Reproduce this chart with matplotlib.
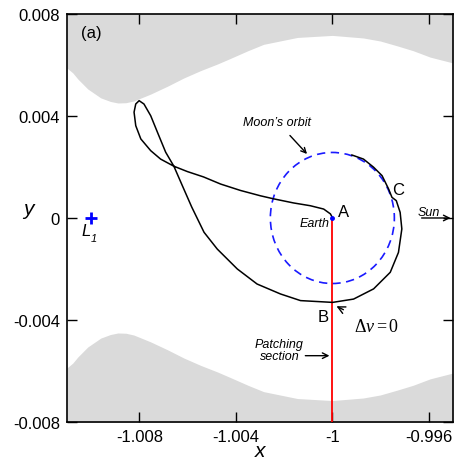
import numpy as np
import matplotlib
matplotlib.use("Agg")
import matplotlib.pyplot as plt
from matplotlib.patches import Circle

plt.rcParams['font.family'] = ['Liberation Sans', 'DejaVu Sans']
plt.rcParams['mathtext.fontset'] = 'custom'
plt.rcParams['mathtext.rm'] = 'Liberation Serif'
plt.rcParams['mathtext.it'] = 'Liberation Serif:italic'

# transfer trajectory (from A, through the loop, B, C)
traj_x = [-0.99999, -1.00008, -1.00036, -1.00091, -1.00161, -1.00243, -1.00298,
          -1.00381, -1.00463, -1.00534, -1.00601, -1.00657, -1.00712, -1.00753,
          -1.00794, -1.00815, -1.00822, -1.00815, -1.00801, -1.00781, -1.00753,
          -1.00725, -1.00691, -1.00657, -1.00622, -1.00583, -1.00532, -1.00477,
          -1.00394, -1.00312, -1.00215, -1.00132, -0.99999, -0.99912, -0.99829,
          -0.99760, -0.99726, -0.99712, -0.99719, -0.99735, -0.99753, -0.99767,
          -0.99794, -0.99829, -0.99871, -0.99919]
traj_y = [0.00000, 0.00016, 0.00035, 0.00048, 0.00059, 0.00075, 0.00087,
          0.00108, 0.00133, 0.00161, 0.00182, 0.00203, 0.00231, 0.00264,
          0.00310, 0.00362, 0.00415, 0.00447, 0.00460, 0.00447, 0.00401,
          0.00336, 0.00258, 0.00203, 0.00127, 0.00043, -0.00056, -0.00122,
          -0.00200, -0.00259, -0.00298, -0.00324, -0.00331, -0.00318, -0.00278,
          -0.00213, -0.00135, -0.00043, 0.00022, 0.00068, 0.00081, 0.00114,
          0.00166, 0.00199, 0.00231, 0.00247]

# forbidden region boundary (symmetric about y = 0)
zvc_x = [-1.0110, -1.01076, -1.01055, -1.01014, -1.00960, -1.00920, -1.00889,
         -1.00856, -1.00823, -1.00753, -1.00683, -1.00616, -1.00546, -1.00476,
         -1.00422, -1.00350, -1.00285, -1.00145, -1.00000, -0.99872, -0.99801,
         -0.99731, -0.99665, -0.99595, -0.99500]
zvc_y = [0.00588, 0.00569, 0.00545, 0.00506, 0.00471, 0.00457, 0.00451,
         0.00452, 0.00459, 0.00486, 0.00517, 0.00549, 0.00578, 0.00604,
         0.00626, 0.00656, 0.00681, 0.00708, 0.00716, 0.00706, 0.00694,
         0.00675, 0.00656, 0.00631, 0.00608]

earth = (-1.0, 0.0)
l1 = (-1.01001, 0.0)
moon_r = 0.00257

xticks = [-1.008, -1.004, -1.0, -0.996]
xlabels = ['-1.008', '-1.004', '-1', '-0.996']
yticks = [0.008, 0.004, 0.0, -0.004, -0.008]
ylabels = ['0.008', '0.004', '0', '-0.004', '-0.008']

fig = plt.figure(figsize=(4.57, 4.64), dpi=100)
ax = fig.add_axes([0.1466, 0.0884, 0.8446, 0.8793])

zx = np.array(zvc_x)
zy = np.array(zvc_y)
ax.fill_between(zx, zy, 0.009, color='#dadada', lw=0, zorder=1)
ax.fill_between(zx, -zy, -0.009, color='#dadada', lw=0, zorder=1)

ax.plot([earth[0], earth[0]], [earth[1], -0.008], color='red', lw=1.3, zorder=3)
ax.plot(traj_x, traj_y, color='black', lw=1.1, zorder=4)
ax.add_patch(Circle(earth, moon_r, fill=False, edgecolor='#1a1aff', lw=1.2,
                    ls=(0, (5, 3.3)), zorder=2))
ax.plot(*earth, 'o', color='blue', ms=2.5, zorder=5)
ax.plot(*l1, '+', color='blue', ms=8, mew=2, zorder=5)

ax.set_xlim(-1.011, -0.995)
ax.set_ylim(-0.008, 0.008)
ax.set_xticks(xticks)
ax.set_xticklabels(xlabels)
ax.set_yticks(yticks)
ax.set_yticklabels(ylabels)
ax.tick_params(direction='in', length=7, width=1, top=True, right=True,
               labelsize=12, pad=5)
for s in ax.spines.values():
    s.set_linewidth(1.2)

ax.set_xlabel('x', fontsize=15, style='italic', labelpad=-2)
ax.set_ylabel('y', fontsize=15, style='italic', rotation=0, labelpad=8)
ax.yaxis.set_label_coords(-0.1, 0.5)

ax.text(-1.0104, 0.0071, '(a)', fontsize=12)
ax.text(-1.01022, -0.0005, 'L', fontsize=12, style='italic', ha='center', va='center')
ax.text(-1.00988, -0.00078, '1', fontsize=8, style='italic', ha='center', va='center')

ax.text(-0.99953, 0.00024, 'A', fontsize=12, ha='center', va='center')
ax.text(-1.00072, -0.0002, 'Earth', fontsize=9, style='italic', ha='center', va='center')
ax.text(-0.99727, 0.00111, 'C', fontsize=12, ha='center', va='center')
ax.text(-1.00036, -0.00386, 'B', fontsize=12, ha='center', va='center')

ax.annotate('Moon\u2019s orbit', xy=(-1.00105, 0.00251), xytext=(-1.00229, 0.00378),
            fontsize=9, style='italic', ha='center', va='center',
            arrowprops=dict(arrowstyle='->', lw=1, shrinkA=5, shrinkB=0))
ax.annotate('', xy=(-0.99510, 0.0), xytext=(-0.9963, 0.0),
            arrowprops=dict(arrowstyle='->', lw=1, shrinkA=0, shrinkB=0))
ax.text(-0.99601, 0.00025, 'Sun', fontsize=9, style='italic', ha='center', va='center')

ax.annotate(r'$\Delta v = 0$', xy=(-0.99983, -0.00346), xytext=(-0.99815, -0.00426),
            fontsize=13, ha='center', va='center',
            arrowprops=dict(arrowstyle='->', lw=1, shrinkA=9, shrinkB=0))
ax.text(-1.00219, -0.00518, 'Patching\nsection', fontsize=9, style='italic',
        ha='center', va='center', linespacing=1.0)
ax.annotate('', xy=(-1.00012, -0.0054), xytext=(-1.00112, -0.0054),
            arrowprops=dict(arrowstyle='->', lw=1, shrinkA=0, shrinkB=0))

fig.savefig('out.png', dpi=100)
